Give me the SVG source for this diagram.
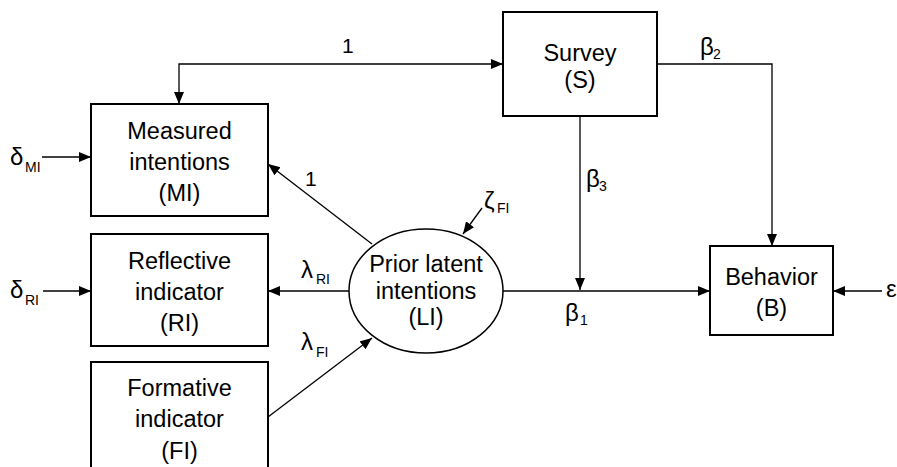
<svg xmlns="http://www.w3.org/2000/svg" width="897" height="467" viewBox="0 0 897 467">
  <style>
    .box { fill: #fff; stroke: #000; stroke-width: 2; }
    .ell { fill: #fff; stroke: #000; stroke-width: 1.5; }
    .lbl { font-family: "Liberation Sans", Arial, sans-serif; font-size: 23.5px; fill: #000; text-anchor: middle; }
    .num { font-family: "Liberation Sans", Arial, sans-serif; font-size: 21px; fill: #000; }
    .gr { font-family: "Liberation Sans", Arial, sans-serif; font-size: 24px; fill: #000; }
    .sub { font-family: "Liberation Sans", Arial, sans-serif; font-size: 14px; fill: #000; }
    .edge { fill: none; stroke: #000; stroke-width: 1.3; marker-end: url(#arrow); }
  </style>
  <defs>
    <marker id="arrow" markerUnits="userSpaceOnUse" markerWidth="13" markerHeight="11" refX="12" refY="5" orient="auto-start-reverse">
      <path d="M0,0 L12,5 L0,10 z" fill="#000"/>
    </marker>
  </defs>

  <rect width="897" height="467" fill="#fff"/>

  <!-- connectors -->
  <g id="connectors">
    <path class="edge" d="M503,64 H179 V104" marker-start="url(#arrow)"/>
    <path class="edge" d="M657,64 H772 V246"/>
    <path class="edge" d="M580,116 V290"/>
    <path class="edge" d="M503,291 H710"/>
    <path class="edge" d="M882,291 H833"/>
    <path class="edge" d="M42,157 H91"/>
    <path class="edge" d="M43,291 H91"/>
    <path class="edge" d="M349,291 H268"/>
    <path class="edge" d="M372,244 L268,164"/>
    <path class="edge" d="M268,417 L372,338"/>
    <path class="edge" d="M482,208 L463,234"/>

    <!-- path coefficients and error terms -->
    <text class="num" x="342" y="53">1</text>
    <text class="num" x="305" y="186">1</text>
    <text class="gr" x="700" y="55">β</text><text class="sub" x="713" y="59">2</text>
    <text class="gr" x="586" y="187">β</text><text class="sub" x="599" y="191">3</text>
    <text class="gr" x="565" y="321">β</text><text class="sub" x="580" y="325">1</text>
    <text class="gr" x="10" y="165">δ</text><text class="sub" x="25" y="172">MI</text>
    <text class="gr" x="10" y="298">δ</text><text class="sub" x="25" y="305">RI</text>
    <text class="gr" x="301" y="278">λ</text><text class="sub" x="316" y="284">RI</text>
    <text class="gr" x="301" y="350">λ</text><text class="sub" x="316" y="357">FI</text>
    <text class="gr" x="484" y="209">ζ</text><text class="sub" x="497" y="213">FI</text>
    <text class="gr" x="886" y="297">ε</text>
  </g>

  <g id="survey">
    <rect class="box" x="503" y="12" width="154" height="104"/>
    <text class="lbl" x="580" y="61">Survey</text>
    <text class="lbl" x="580" y="88">(S)</text>
  </g>

  <g id="measured-intentions">
    <rect class="box" x="91" y="104" width="177" height="112"/>
    <text class="lbl" x="179.5" y="139">Measured</text>
    <text class="lbl" x="179.5" y="170">intentions</text>
    <text class="lbl" x="179.5" y="201">(MI)</text>
  </g>

  <g id="reflective-indicator">
    <rect class="box" x="91" y="234" width="177" height="112"/>
    <text class="lbl" x="179.5" y="269">Reflective</text>
    <text class="lbl" x="179.5" y="300">indicator</text>
    <text class="lbl" x="179.5" y="331">(RI)</text>
  </g>

  <g id="formative-indicator">
    <rect class="box" x="91" y="362" width="177" height="112"/>
    <text class="lbl" x="179.5" y="396">Formative</text>
    <text class="lbl" x="179.5" y="427">indicator</text>
    <text class="lbl" x="179.5" y="459">(FI)</text>
  </g>

  <g id="prior-latent-intentions">
    <ellipse class="ell" cx="426" cy="291" rx="77" ry="62"/>
    <text class="lbl" x="426" y="272">Prior latent</text>
    <text class="lbl" x="426" y="298.5">intentions</text>
    <text class="lbl" x="426" y="325">(LI)</text>
  </g>

  <g id="behavior">
    <rect class="box" x="710" y="246" width="123" height="89"/>
    <text class="lbl" x="771.5" y="285">Behavior</text>
    <text class="lbl" x="771.5" y="316">(B)</text>
  </g>
</svg>
